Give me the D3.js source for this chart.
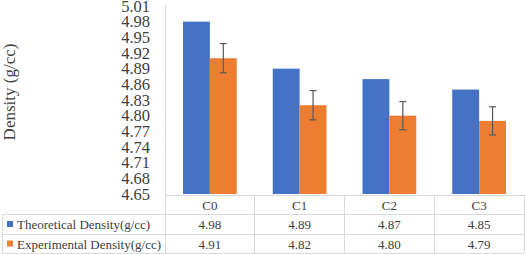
<!DOCTYPE html>
<html>
<head>
<meta charset="utf-8">
<script src="https://cdn.jsdelivr.net/npm/d3@7"></script>
<style>
  body { margin: 0; background: #fff; }
  text { font-family: "Liberation Serif", "Times New Roman", serif; fill: #404040; }
</style>
</head>
<body>
<div id="chart"></div>
<script>
var categories = ["C0", "C1", "C2", "C3"];
var seriesNames = ["Theoretical Density(g/cc)", "Experimental Density(g/cc)"];
var theoretical = [4.98, 4.89, 4.87, 4.85];
var experimental = [4.91, 4.82, 4.80, 4.79];
var expError = [0.028, 0.028, 0.027, 0.027];
var yTicks = [4.65, 4.68, 4.71, 4.74, 4.77, 4.80, 4.83, 4.86, 4.89, 4.92, 4.95, 4.98, 5.01];
var colors = ["#4472C4", "#ED7D31"];

var W = 525, H = 254;
var plotLeft = 165, plotRight = 524, plotTop = 6, plotBottom = 194;
var rowY = [195, 214, 234, 253];

var svg = d3.select("#chart").append("svg")
  .attr("width", W).attr("height", H);

var y = d3.scaleLinear().domain([4.65, 5.01]).range([plotBottom, plotTop]);
var x = d3.scaleBand().domain(categories).range([plotLeft, plotRight]);
var xs = d3.scaleBand().domain(seriesNames).range([18, x.bandwidth() - 18]);

// y axis labels only
var yAxis = svg.append("g")
  .attr("transform", "translate(" + plotLeft + ",0)")
  .call(d3.axisLeft(y).tickValues(yTicks).tickFormat(d3.format(".2f")).tickSize(0).tickPadding(15));
yAxis.select(".domain").remove();
yAxis.selectAll("text")
  .style("font-family", '"Liberation Serif", serif')
  .style("font-size", "16.5px")
  .style("fill", "#404040");

svg.append("text")
  .attr("transform", "translate(15,92) rotate(-90)")
  .attr("text-anchor", "middle")
  .style("font-size", "17px")
  .text("Density (g/cc)");

// bars
var data = [theoretical, experimental];
data.forEach(function(vals, si) {
  svg.append("g").selectAll("rect")
    .data(vals)
    .enter().append("rect")
      .attr("x", function(d, i) { return x(categories[i]) + xs(seriesNames[si]) })
      .attr("width", xs.bandwidth())
      .attr("y", function(d) { return y(d) })
      .attr("height", function(d) { return y(4.65) - y(d) })
      .style("fill", colors[si]);
});

// error bars on experimental
var eb = svg.append("g").style("stroke", "#595959").style("stroke-width", 1.2);
experimental.forEach(function(d, i) {
  var cx = x(categories[i]) + xs(seriesNames[1]) + xs.bandwidth() / 2;
  eb.append("line").attr("x1", cx).attr("x2", cx).attr("y1", y(d + expError[i])).attr("y2", y(d - expError[i]));
  eb.append("line").attr("x1", cx - 3.5).attr("x2", cx + 3.5).attr("y1", y(d + expError[i])).attr("y2", y(d + expError[i]));
  eb.append("line").attr("x1", cx - 3.5).attr("x2", cx + 3.5).attr("y1", y(d - expError[i])).attr("y2", y(d - expError[i]));
});

// data table grid
var grid = svg.append("g").style("stroke", "#d9d9d9").style("stroke-width", 1).style("shape-rendering", "crispEdges");
grid.append("line").attr("x1", plotLeft).attr("x2", plotLeft).attr("y1", plotTop - 1).attr("y2", rowY[3]);
grid.append("line").attr("x1", plotLeft).attr("x2", plotRight).attr("y1", rowY[0]).attr("y2", rowY[0]);
[1, 2, 3].forEach(function(r) {
  grid.append("line").attr("x1", 2).attr("x2", plotRight).attr("y1", rowY[r]).attr("y2", rowY[r]);
});
grid.append("line").attr("x1", 2).attr("x2", 2).attr("y1", rowY[1]).attr("y2", rowY[3]);
categories.forEach(function(c) {
  grid.append("line").attr("x1", x(c) + x.bandwidth()).attr("x2", x(c) + x.bandwidth()).attr("y1", rowY[0]).attr("y2", rowY[3]);
});

// table text
var rows = [categories, theoretical.map(d3.format(".2f")), experimental.map(d3.format(".2f"))];
rows.forEach(function(row, r) {
  svg.append("g").selectAll("text")
    .data(row)
    .enter().append("text")
      .attr("x", function(d, i) { return x(categories[i]) + x.bandwidth() / 2 })
      .attr("y", (rowY[r] + rowY[r + 1]) / 2 + 5)
      .attr("text-anchor", "middle")
      .style("font-size", "13px")
      .text(function(d) { return d });
});

// legend keys + series names
seriesNames.forEach(function(s, si) {
  var cy = (rowY[si + 1] + rowY[si + 2]) / 2;
  svg.append("rect").attr("x", 7).attr("y", cy - 3).attr("width", 6).attr("height", 6).style("fill", colors[si]);
  svg.append("text").attr("x", 17).attr("y", cy + 5).style("font-size", "13px").text(s);
});
</script>
</body>
</html>
